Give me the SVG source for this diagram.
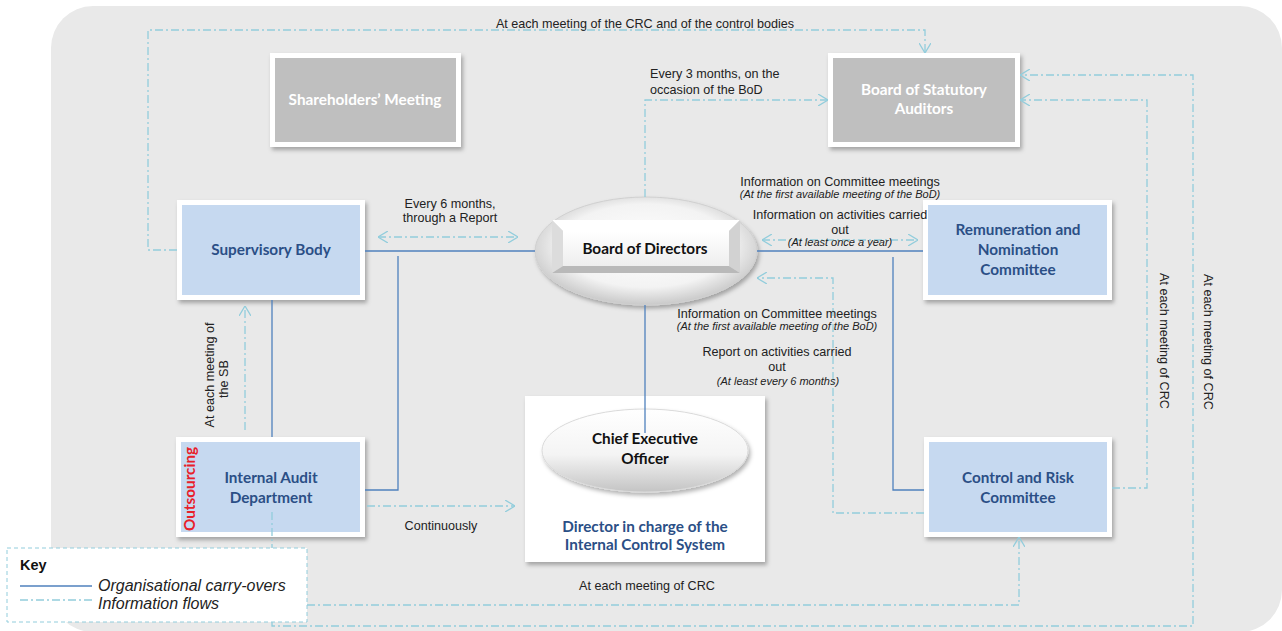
<svg xmlns="http://www.w3.org/2000/svg" width="1282" height="631" viewBox="0 0 1282 631">
<style>
.org{stroke:#4f81bd;stroke-width:1.3;fill:none}
.info{stroke:#92cddc;stroke-width:1.3;fill:none;stroke-dasharray:8 3 2 3}
.lbl{font-family:"Liberation Sans",Arial,sans-serif;font-size:12.6px;fill:#222}
.c{text-anchor:middle}
.it{font-style:italic;font-size:11px}
.nt{font-family:Lato,"Open Sans",sans-serif;font-weight:bold;font-size:15.3px;fill:#2b4f86;text-anchor:middle}
.gt{fill:#ffffff}
.bt{fill:#111111}
.frame{fill:#ffffff}
.blue{fill:#c6d9f0}
.gray{fill:#bfbfbf}
</style>
<defs>
<filter id="sh" x="-10%" y="-10%" width="125%" height="130%">
<feDropShadow dx="2" dy="3" stdDeviation="2" flood-color="#000" flood-opacity="0.3"/>
</filter>
<marker id="arr" viewBox="0 0 10 12" refX="10" refY="6" markerWidth="10" markerHeight="12" markerUnits="userSpaceOnUse" orient="auto-start-reverse">
<path d="M0,0 L10,6 L0,12" fill="none" stroke="#92cddc" stroke-width="1.3"/>
</marker>
<radialGradient id="ellg" cx="50%" cy="45%" r="55%">
<stop offset="0" stop-color="#ffffff"/>
<stop offset="0.7" stop-color="#f3f3f3"/>
<stop offset="1" stop-color="#c9c9c9"/>
</radialGradient>
<linearGradient id="ceog" x1="0" y1="0" x2="0" y2="1">
<stop offset="0" stop-color="#ffffff"/>
<stop offset="0.55" stop-color="#f4f4f4"/>
<stop offset="1" stop-color="#c4c4c4"/>
</linearGradient>
<linearGradient id="faceg" x1="0" y1="0" x2="0" y2="1">
<stop offset="0" stop-color="#ffffff"/>
<stop offset="1" stop-color="#eeeeee"/>
</linearGradient>
</defs>

<rect x="51" y="6" width="1231" height="626" rx="42" fill="#e9e9e9"/>

<g id="shareholders-meeting">
<rect class="frame" x="270" y="53" width="191" height="94" filter="url(#sh)"/>
<rect class="gray" x="275" y="58" width="181" height="84"/>
<text class="nt gt" x="365" y="105">Shareholders’ Meeting</text>
</g>

<g id="board-of-statutory-auditors">
<rect class="frame" x="828" y="53" width="192" height="94" filter="url(#sh)"/>
<rect class="gray" x="833" y="58" width="182" height="84"/>
<text class="nt gt" x="924" y="95">Board of Statutory</text>
<text class="nt gt" x="924" y="114">Auditors</text>
</g>

<g id="supervisory-body">
<rect class="frame" x="177" y="200" width="188" height="100" filter="url(#sh)"/>
<rect class="blue" x="182" y="205" width="178" height="90"/>
<text class="nt" x="271" y="255">Supervisory Body</text>
</g>

<g id="board-of-directors">
<ellipse cx="646" cy="251" rx="111" ry="54" fill="url(#ellg)" stroke="#d0d0d0" stroke-width="1" filter="url(#sh)"/>
<rect x="552" y="220" width="188" height="53" fill="#e6e6e6"/>
<polygon points="552,220 740,220 729,231 563,231" fill="#ffffff"/>
<polygon points="552,220 563,231 563,266 552,273" fill="#dcdcdc"/>
<polygon points="740,220 729,231 729,266 740,273" fill="#d2d2d2"/>
<polygon points="552,273 563,266 729,266 740,273" fill="#b9b9b9"/>
<rect x="563" y="231" width="166" height="35" fill="url(#faceg)"/>
<text class="nt bt" x="645" y="254">Board of Directors</text>
</g>

<g id="remuneration-nomination-committee">
<rect class="frame" x="923" y="200" width="189" height="100" filter="url(#sh)"/>
<rect class="blue" x="928" y="205" width="179" height="90"/>
<text class="nt" x="1018" y="235">Remuneration and</text>
<text class="nt" x="1018" y="255">Nomination</text>
<text class="nt" x="1018" y="275">Committee</text>
</g>

<g id="internal-audit-department">
<rect class="frame" x="176" y="437" width="189" height="100" filter="url(#sh)"/>
<rect class="blue" x="181" y="442" width="179" height="90"/>
<text class="nt" x="271" y="483">Internal Audit</text>
<text class="nt" x="271" y="503">Department</text>
<text class="nt" transform="translate(195,489) rotate(-90)" x="0" y="0" style="fill:#e8202a">Outsourcing</text>
</g>

<g id="director-internal-control">
<rect class="frame" x="525" y="396" width="240" height="166" filter="url(#sh)"/>
<text class="nt" x="645" y="532">Director in charge of the</text>
<text class="nt" x="645" y="550">Internal Control System</text>
</g>

<g id="chief-executive-officer">
<ellipse cx="645" cy="450.5" rx="103" ry="41.5" fill="url(#ceog)" stroke="#dadada" stroke-width="1" filter="url(#sh)"/>
<text class="nt bt" x="645" y="444">Chief Executive</text>
<text class="nt bt" x="645" y="464">Officer</text>
</g>

<g id="control-risk-committee">
<rect class="frame" x="924" y="437" width="188" height="100" filter="url(#sh)"/>
<rect class="blue" x="929" y="442" width="178" height="90"/>
<text class="nt" x="1018" y="483">Control and Risk</text>
<text class="nt" x="1018" y="503">Committee</text>
</g>

<g id="connectors">
<path class="org" d="M365,251 H535"/>
<path class="org" d="M398,256 V490 H365"/>
<path class="org" d="M272,300 V437"/>
<path class="org" d="M757,251 H923"/>
<path class="org" d="M893,257 V490 H924"/>
<path class="org" d="M645,305 V433"/>

<path class="info" d="M177,250 H148 V30 H925 V53" marker-end="url(#arr)"/>
<path class="info" d="M645,197 V100 H828" marker-end="url(#arr)"/>
<path class="info" d="M272,512 V605 H1019 V537" marker-end="url(#arr)"/>
<path class="info" d="M272,605 V626 H1193 V75 H1020" marker-end="url(#arr)"/>
<path class="info" d="M1112,488 H1147 V100 H1020" marker-end="url(#arr)"/>
<path class="info" d="M924,513 H833 V278 H757" marker-end="url(#arr)"/>
<path class="info" d="M378,237 H518" marker-start="url(#arr)" marker-end="url(#arr)"/>
<path class="info" d="M762,240 H918" marker-start="url(#arr)" marker-end="url(#arr)"/>
<path class="info" d="M245,430 V306" marker-end="url(#arr)"/>
<path class="info" d="M367,506 H515" marker-end="url(#arr)"/>

<text class="lbl c" x="645" y="28">At each meeting of the CRC and of the control bodies</text>
<text class="lbl" x="650" y="78">Every 3 months, on the</text>
<text class="lbl" x="650" y="94">occasion of the BoD</text>
<text class="lbl c" x="450" y="208">Every 6 months,</text>
<text class="lbl c" x="450" y="222">through a Report</text>
<text class="lbl c" x="840" y="186">Information on Committee meetings</text>
<text class="lbl c it" x="840" y="198">(At the first available meeting of the BoD)</text>
<text class="lbl c" x="840" y="219">Information on activities carried</text>
<text class="lbl c" x="840" y="234">out</text>
<text class="lbl c it" x="840" y="246">(At least once a year)</text>
<text class="lbl c" x="777" y="318">Information on Committee meetings</text>
<text class="lbl c it" x="777" y="330">(At the first available meeting of the BoD)</text>
<text class="lbl c" x="777" y="356">Report on activities carried</text>
<text class="lbl c" x="777" y="371">out</text>
<text class="lbl c it" x="778" y="385">(At least every 6 months)</text>
<text class="lbl c" x="441" y="530">Continuously</text>
<text class="lbl c" x="647" y="590">At each meeting of CRC</text>
<text class="lbl c" transform="translate(1160,341) rotate(90)" x="0" y="0">At each meeting of CRC</text>
<text class="lbl c" transform="translate(1204,342) rotate(90)" x="0" y="0">At each meeting of CRC</text>
<text class="lbl c" transform="translate(214,375) rotate(-90)" x="0" y="0">At each meeting of</text>
<text class="lbl c" transform="translate(228,379) rotate(-90)" x="0" y="0">the SB</text>
</g>

<g id="key">
<rect x="7" y="548" width="300" height="74" fill="#ffffff" stroke="#92cddc" stroke-width="1" stroke-dasharray="4 3"/>
<text x="20" y="570" style="font-family:'Liberation Sans',Arial,sans-serif;font-weight:bold;font-size:14.5px;fill:#111">Key</text>
<path class="org" d="M20,586 H92"/>
<path class="info" d="M20,600 H92"/>
<text x="98" y="591" style="font-family:'Liberation Sans',Arial,sans-serif;font-style:italic;font-size:16px;fill:#222">Organisational carry-overs</text>
<text x="98" y="609" style="font-family:'Liberation Sans',Arial,sans-serif;font-style:italic;font-size:16px;fill:#222">Information flows</text>
</g>
</svg>
